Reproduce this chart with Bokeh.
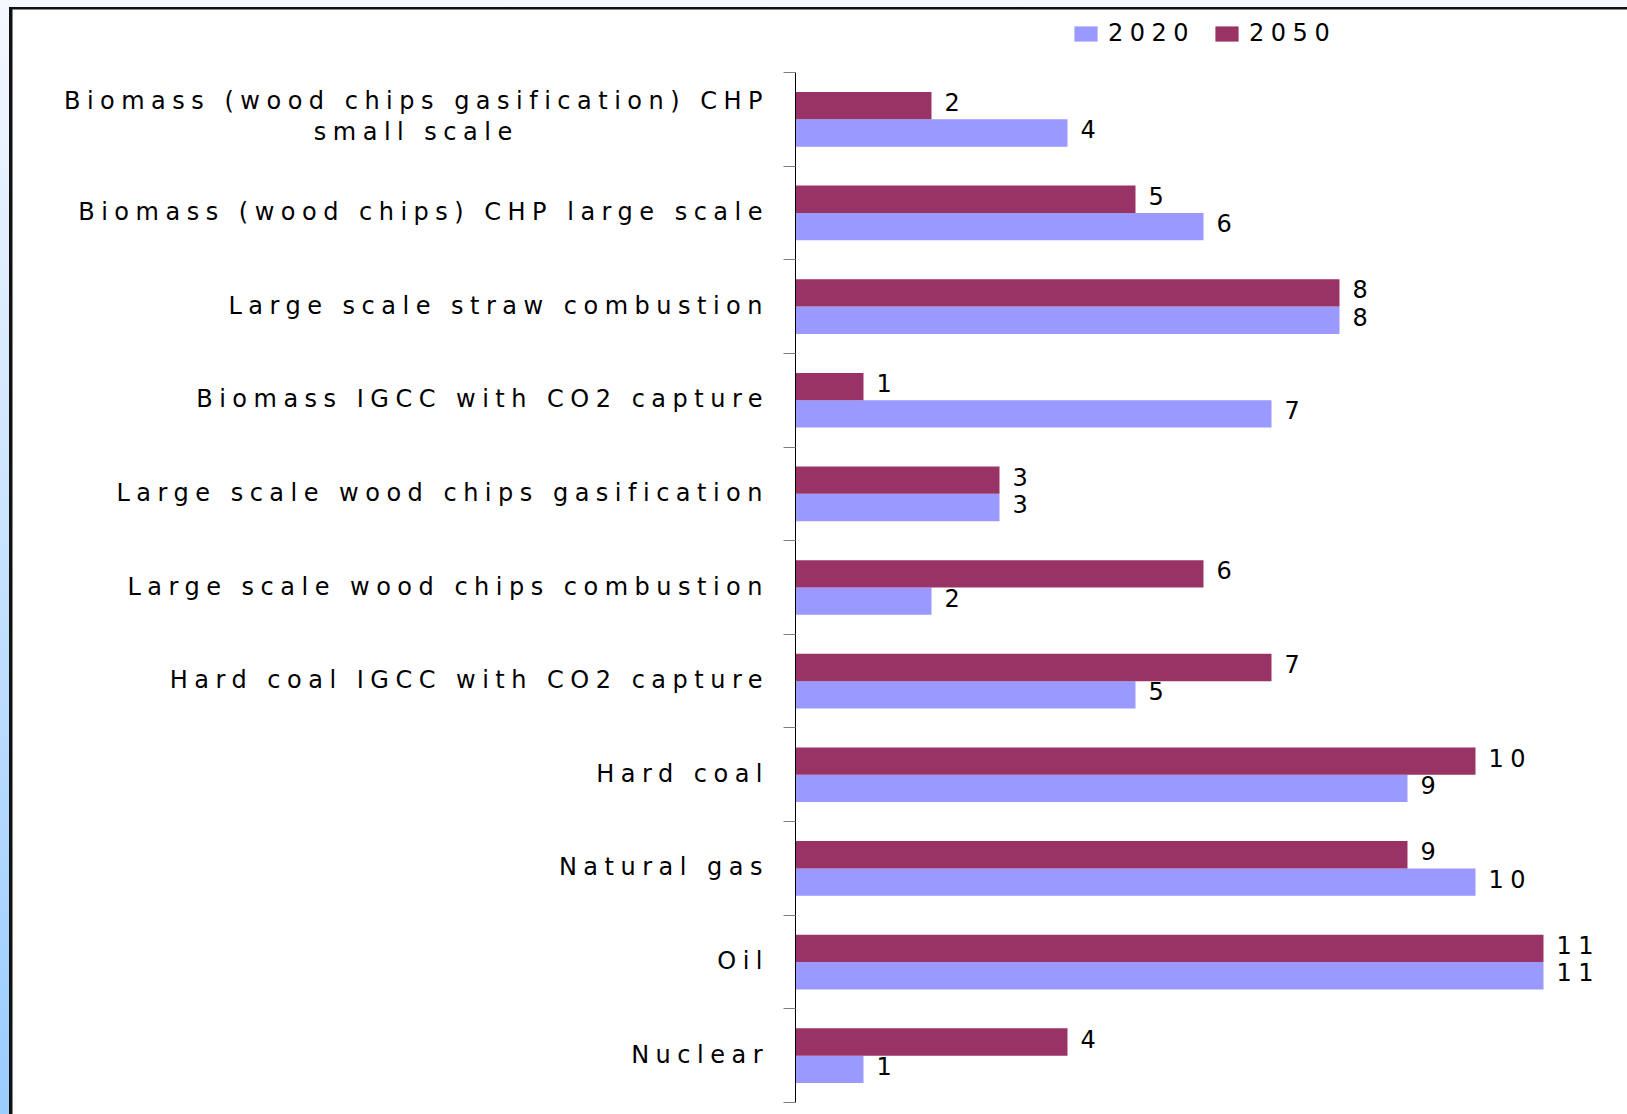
from bokeh.plotting import figure
from bokeh.models import ColumnDataSource, Range1d, LinearAxis, FixedTicker
from bokeh.transform import dodge
from bokeh.core.properties import value
from bokeh.embed import file_html
from bokeh.resources import INLINE

# ---- data (top to bottom) ----
categories = [
    "Biomass (wood chips gasification) CHP\nsmall scale",
    "Biomass (wood chips) CHP large scale",
    "Large scale straw combustion",
    "Biomass IGCC with CO2 capture",
    "Large scale wood chips gasification",
    "Large scale wood chips combustion",
    "Hard coal IGCC with CO2 capture",
    "Hard coal",
    "Natural gas",
    "Oil",
    "Nuclear",
]
values_2020 = [4, 6, 8, 7, 3, 2, 5, 9, 10, 11, 1]
values_2050 = [2, 5, 8, 1, 3, 6, 7, 10, 9, 11, 4]
series_names = ["2020", "2050"]

# ---- geometry / style ----
W, H = 1627, 1114
FRAME_LEFT, FRAME_TOP = 12, 9
AXIS_X = 795
PLOT_TOP, PLOT_BOTTOM = 72, 1102
PX_PER_UNIT = 68.0
LS = 6.5             # letter spacing (px)
STANDOFF = 33 - LS   # gap between labels and axis
FONT = value("DejaVu Sans")
FONT_SIZE = "24px"
COL_2020 = "#9999ff"
COL_2050 = "#993366"
OFF, BAR_H = 0.146, 0.292

n = len(categories)
band = (PLOT_BOTTOM - PLOT_TOP) / n
x_range = Range1d(-(AXIS_X - FRAME_LEFT) / PX_PER_UNIT, (W - AXIS_X) / PX_PER_UNIT)
y_range = Range1d(-(H - PLOT_BOTTOM) / band, n + (PLOT_TOP - FRAME_TOP) / band)

centers = [n - i - 0.5 for i in range(n)]

page_bg = ("linear-gradient(#111111, #111111) 9px 7px / 100% 100% no-repeat, "
           "linear-gradient(to bottom, #f5f8ff 0%, #99ccff 100%)")

p = figure(width=W, height=H, x_range=x_range, y_range=y_range,
           output_backend="svg", toolbar_location=None,
           x_axis_location=None, y_axis_location=None,
           min_border=0, min_border_left=FRAME_LEFT, min_border_top=FRAME_TOP,
           border_fill_color=None, background_fill_color="white",
           outline_line_color=None,
           styles={"background": page_bg, "letter-spacing": f"{LS}px"})
p.grid.visible = False

src = ColumnDataSource(dict(
    y=centers,
    v2020=values_2020, v2050=values_2050,
    t2020=[str(v) for v in values_2020], t2050=[str(v) for v in values_2050],
))

p.hbar(y=dodge("y", -OFF), left=0, right="v2020", height=BAR_H,
       fill_color=COL_2020, line_color=None, legend_label=series_names[0], source=src)
p.hbar(y=dodge("y", OFF), left=0, right="v2050", height=BAR_H,
       fill_color=COL_2050, line_color=None, legend_label=series_names[1], source=src)

for field, txt, off in (("v2020", "t2020", -OFF), ("v2050", "t2050", OFF)):
    p.text(x=field, y=dodge("y", off), text=txt, source=src,
           x_offset=13, y_offset=-3.5, text_align="left", text_baseline="middle",
           text_font=FONT, text_font_size=FONT_SIZE, text_color="black")

# category labels: right-aligned against the axis, extra lines centred under the first
first_y, first_t, first_o, first_dy = [], [], [], []
extra_y, extra_t = [], []
for c, name in zip(centers, categories):
    lines = name.split("\n")
    first_y.append(c)
    first_t.append(lines[0])
    first_o.append(-(STANDOFF + LS * len(lines[0])))
    first_dy.append(-18 if len(lines) > 1 else -1)
    for ln in lines[1:]:
        extra_y.append(c)
        extra_t.append(ln)

lab_src = ColumnDataSource(dict(x=[0] * n, y=first_y, text=first_t, xo=first_o, yo=first_dy))
p.text(x="x", y="y", text="text", x_offset="xo", y_offset="yo", source=lab_src,
       text_align="right", text_baseline="middle",
       text_font=FONT, text_font_size=FONT_SIZE, text_color="black")

extra_src = ColumnDataSource(dict(x=[0] * len(extra_y), y=extra_y, text=extra_t))
p.text(x="x", y="y", text="text", x_offset=-415, y_offset=13, source=extra_src,
       text_align="center", text_baseline="middle",
       text_font=FONT, text_font_size=FONT_SIZE, text_color="black")

# vertical axis with ticks on category boundaries
ax = LinearAxis(fixed_location=0, bounds=(0, n),
                ticker=FixedTicker(ticks=[], minor_ticks=list(range(n + 1))),
                major_tick_line_color=None, major_label_text_font_size="0px",
                minor_tick_in=0, minor_tick_out=12, minor_tick_line_color="#808080",
                axis_line_color="black", axis_line_width=1)
p.add_layout(ax, "left")

lg = p.legend[0]
lg.orientation = "horizontal"
lg.location = (1071 - FRAME_LEFT, H - 20 - 27)
lg.padding = 0
lg.margin = 0
lg.spacing = 17
lg.glyph_width = 29
lg.glyph_height = 19
lg.label_standoff = 8
lg.label_text_font = "DejaVu Sans"
lg.label_text_font_size = FONT_SIZE
lg.label_text_color = "black"
lg.border_line_color = None
lg.background_fill_alpha = 0

open("out.html", "w").write(file_html(p, INLINE))
